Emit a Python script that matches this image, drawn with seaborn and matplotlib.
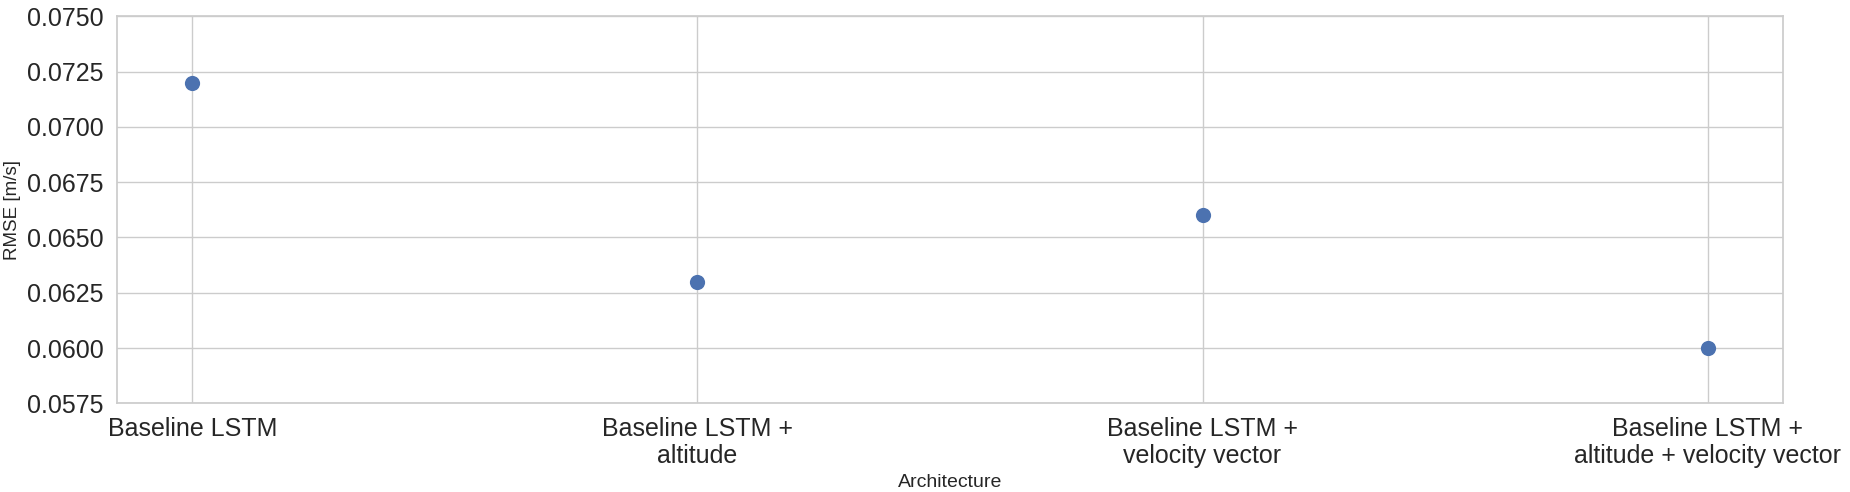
import matplotlib
matplotlib.use("Agg")
import matplotlib.pyplot as plt
import seaborn as sns
import pandas as pd

ARCHITECTURES = [
    "Baseline LSTM",
    "Baseline LSTM +\naltitude",
    "Baseline LSTM +\nvelocity vector",
    "Baseline LSTM +\naltitude + velocity vector",
]
RMSE = [0.0720, 0.0630, 0.0660, 0.0600]
Y_TICKS = [0.0575, 0.0600, 0.0625, 0.0650, 0.0675, 0.0700, 0.0725, 0.0750]

sns.set_theme(style="whitegrid")
plt.rcParams["font.family"] = ["Liberation Sans", "DejaVu Sans"]

df = pd.DataFrame({"Architecture": ARCHITECTURES, "RMSE": RMSE})

fig, ax = plt.subplots(figsize=(18.5, 4.92), dpi=100)
sns.scatterplot(data=df, x="Architecture", y="RMSE", s=120, color="#4c72b0",
                linewidth=0, ax=ax, zorder=3)

ax.set_xlim(-0.15, 3.15)
ax.set_ylim(0.0575, 0.0750)
ax.set_yticks(Y_TICKS)
ax.set_yticklabels([f"{t:.4f}" for t in Y_TICKS])
ax.tick_params(axis="both", labelsize=18)
ax.set_xlabel("Architecture", fontsize=14)
ax.set_ylabel("RMSE [m/s]", fontsize=13.5)

fig.subplots_adjust(left=0.063, right=0.964, top=0.967, bottom=0.18)
fig.savefig("out.png", dpi=100)
